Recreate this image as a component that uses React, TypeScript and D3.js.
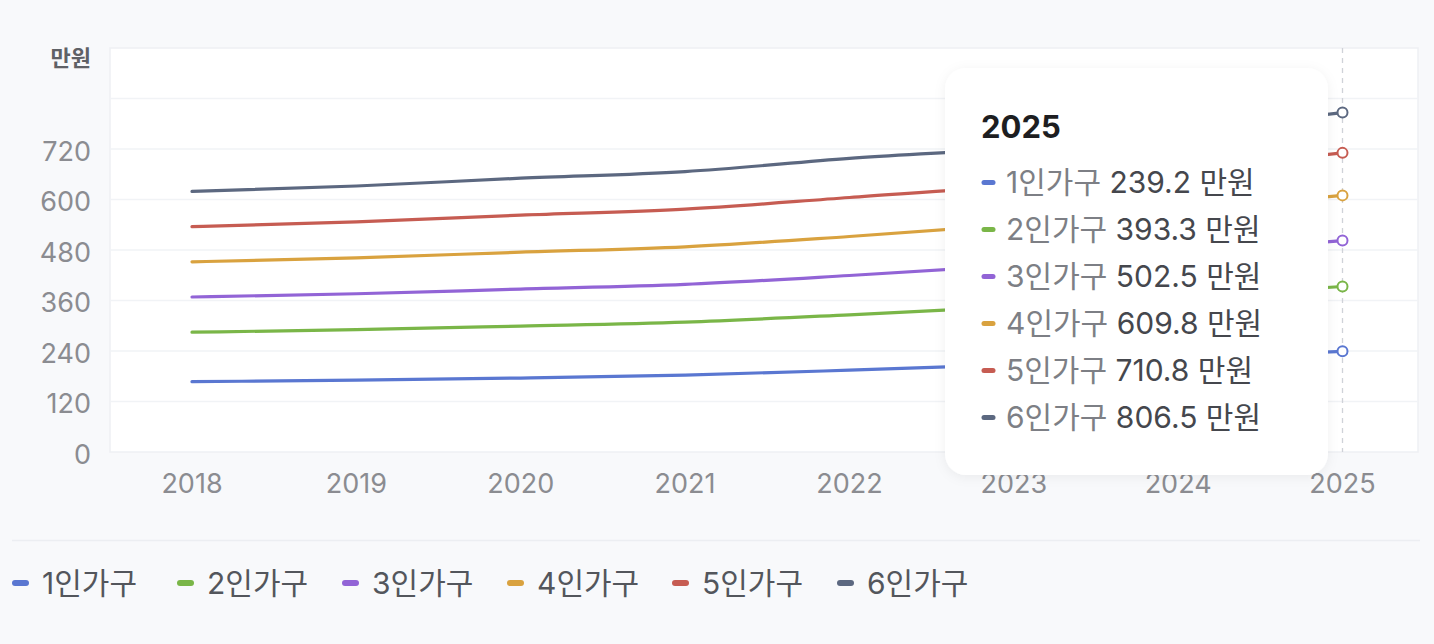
import React, { useEffect, useRef } from "react";
import * as d3 from "d3";

// 기준 중위소득 (만원)
const years = ["2018", "2019", "2020", "2021", "2022", "2023", "2024", "2025"];
const seriesNames = ["1인가구", "2인가구", "3인가구", "4인가구", "5인가구", "6인가구"];
const one = [167.2, 170.7, 175.7, 182.8, 194.5, 207.8, 222.8, 239.2];
const two = [284.7, 290.6, 299.2, 308.8, 326.0, 345.6, 368.3, 393.3];
const three = [368.3, 376.0, 387.1, 398.3, 419.4, 443.5, 471.5, 502.5];
const four = [451.9, 461.4, 474.9, 487.6, 512.1, 540.1, 573.0, 609.8];
const five = [535.5, 546.8, 562.8, 577.0, 604.8, 633.1, 669.6, 710.8];
const six = [619.1, 632.1, 650.6, 666.4, 697.6, 722.8, 761.8, 806.5];
const yTicks = [0, 120, 240, 360, 480, 600, 720, 840, 960];
const yLabelTicks = [0, 120, 240, 360, 480, 600, 720];
const colors = ["#5a77d1", "#7ab648", "#9264d6", "#d9a23f", "#c65c52", "#5c6880"];
const activeYear = "2025";

const W = 1434;
const H = 644;
const FONT = "Inter, 'Noto Sans CJK KR', sans-serif";

const App = () => {
  const svgRef = useRef<SVGSVGElement>(null);

  useEffect(() => {
    const svg = d3.select(svgRef.current);
    svg.selectAll("*").remove();

    const data = [one, two, three, four, five, six];
    const plot = { left: 110, right: 1418, top: 48, bottom: 452 };

    const x = d3.scalePoint().domain(years).range([192, 1342.5]);
    const y = d3.scaleLinear().domain([0, 960]).range([plot.bottom, plot.top]);

    svg.append("rect").attr("width", W).attr("height", H).attr("fill", "#f8f9fb");

    // plot box
    svg
      .append("rect")
      .attr("x", plot.left)
      .attr("y", plot.top)
      .attr("width", plot.right - plot.left)
      .attr("height", plot.bottom - plot.top)
      .attr("fill", "#ffffff")
      .attr("stroke", "#eef0f4")
      .attr("stroke-width", 1.5);

    // grid
    svg
      .append("g")
      .selectAll("line")
      .data(yTicks.slice(1, -1))
      .join("line")
      .attr("x1", plot.left)
      .attr("x2", plot.right)
      .attr("y1", (d) => y(d))
      .attr("y2", (d) => y(d))
      .attr("stroke", "#f1f3f6")
      .attr("stroke-width", 1.5);

    // y labels
    svg
      .append("g")
      .selectAll("text")
      .data(yLabelTicks)
      .join("text")
      .attr("x", 91)
      .attr("y", (d) => y(d) + 2)
      .attr("dy", "0.36em")
      .attr("text-anchor", "end")
      .attr("font-family", FONT)
      .attr("font-size", 27)
      .attr("fill", "#8b8c91")
      .text((d) => d);

    svg
      .append("text")
      .attr("x", 91)
      .attr("y", 66)
      .attr("text-anchor", "end")
      .attr("font-family", FONT)
      .attr("font-size", 22)
      .attr("font-weight", 700)
      .attr("fill", "#5f6166")
      .text("만원");

    // x labels
    svg
      .append("g")
      .selectAll("text")
      .data(years)
      .join("text")
      .attr("x", (d) => x(d)!)
      .attr("y", 493)
      .attr("text-anchor", "middle")
      .attr("font-family", FONT)
      .attr("font-size", 27)
      .attr("fill", "#8b8c91")
      .text((d) => d);

    // crosshair
    svg
      .append("line")
      .attr("x1", x(activeYear)!)
      .attr("x2", x(activeYear)!)
      .attr("y1", plot.top)
      .attr("y2", plot.bottom)
      .attr("stroke", "#cfd2d8")
      .attr("stroke-width", 1.3)
      .attr("stroke-dasharray", "5,5");

    const line = d3
      .line<number>()
      .x((_, i) => x(years[i])!)
      .y((d) => y(d))
      .curve(d3.curveMonotoneX);

    data.forEach((vals, si) => {
      svg
        .append("path")
        .datum(vals)
        .attr("fill", "none")
        .attr("stroke", colors[si])
        .attr("stroke-width", 3.2)
        .attr("stroke-linecap", "round")
        .attr("d", line);
    });

    const ai = years.indexOf(activeYear);
    data.forEach((vals, si) => {
      svg
        .append("circle")
        .attr("cx", x(activeYear)!)
        .attr("cy", y(vals[ai]))
        .attr("r", 5)
        .attr("fill", "#ffffff")
        .attr("stroke", colors[si])
        .attr("stroke-width", 2);
    });

    // tooltip
    const defs = svg.append("defs");
    const filter = defs
      .append("filter")
      .attr("id", "tipShadow")
      .attr("x", "-20%")
      .attr("y", "-20%")
      .attr("width", "140%")
      .attr("height", "140%");
    filter
      .append("feDropShadow")
      .attr("dx", 0)
      .attr("dy", 2)
      .attr("stdDeviation", 6)
      .attr("flood-color", "#000")
      .attr("flood-opacity", 0.06);

    const tip = svg.append("g").attr("transform", "translate(945,68)");
    tip
      .append("rect")
      .attr("width", 383)
      .attr("height", 407)
      .attr("rx", 21)
      .attr("fill", "#ffffff")
      .attr("filter", "url(#tipShadow)");
    tip
      .append("text")
      .attr("x", 36)
      .attr("y", 70)
      .attr("font-family", FONT)
      .attr("font-size", 31)
      .attr("font-weight", 700)
      .attr("fill", "#1d1e21")
      .text(activeYear);

    seriesNames.forEach((name, si) => {
      const cy = 114.5 + si * 47;
      tip
        .append("line")
        .attr("x1", 39)
        .attr("x2", 48)
        .attr("y1", cy)
        .attr("y2", cy)
        .attr("stroke", colors[si])
        .attr("stroke-width", 5)
        .attr("stroke-linecap", "round");
      const t = tip
        .append("text")
        .attr("x", 61)
        .attr("y", cy)
        .attr("dy", "0.36em")
        .attr("font-family", FONT)
        .attr("font-size", 30);
      t.append("tspan").attr("fill", "#7d7f85").text(name);
      t.append("tspan")
        .attr("fill", "#45474d")
        .text(` ${data[si][ai].toFixed(1)} 만원`);
    });

    // legend
    svg
      .append("line")
      .attr("x1", 12)
      .attr("x2", 1420)
      .attr("y1", 540.5)
      .attr("y2", 540.5)
      .attr("stroke", "#eceef2")
      .attr("stroke-width", 1.5);

    const legend = svg
      .append("g")
      .selectAll("g")
      .data(seriesNames)
      .join("g")
      .attr("transform", (_, i) => `translate(${12 + i * 165},583)`);
    legend
      .append("line")
      .attr("x1", 3)
      .attr("x2", 14)
      .attr("stroke", (_, i) => colors[i])
      .attr("stroke-width", 6)
      .attr("stroke-linecap", "round");
    legend
      .append("text")
      .attr("x", 30)
      .attr("dy", "0.36em")
      .attr("font-family", FONT)
      .attr("font-size", 30)
      .attr("fill", "#53565c")
      .text((d) => d);
  }, []);

  return (
    <div style={{ position: "fixed", left: 0, top: 0, width: W, height: H }}>
      <svg ref={svgRef} width={W} height={H} style={{ display: "block" }} />
    </div>
  );
};

export default App;
